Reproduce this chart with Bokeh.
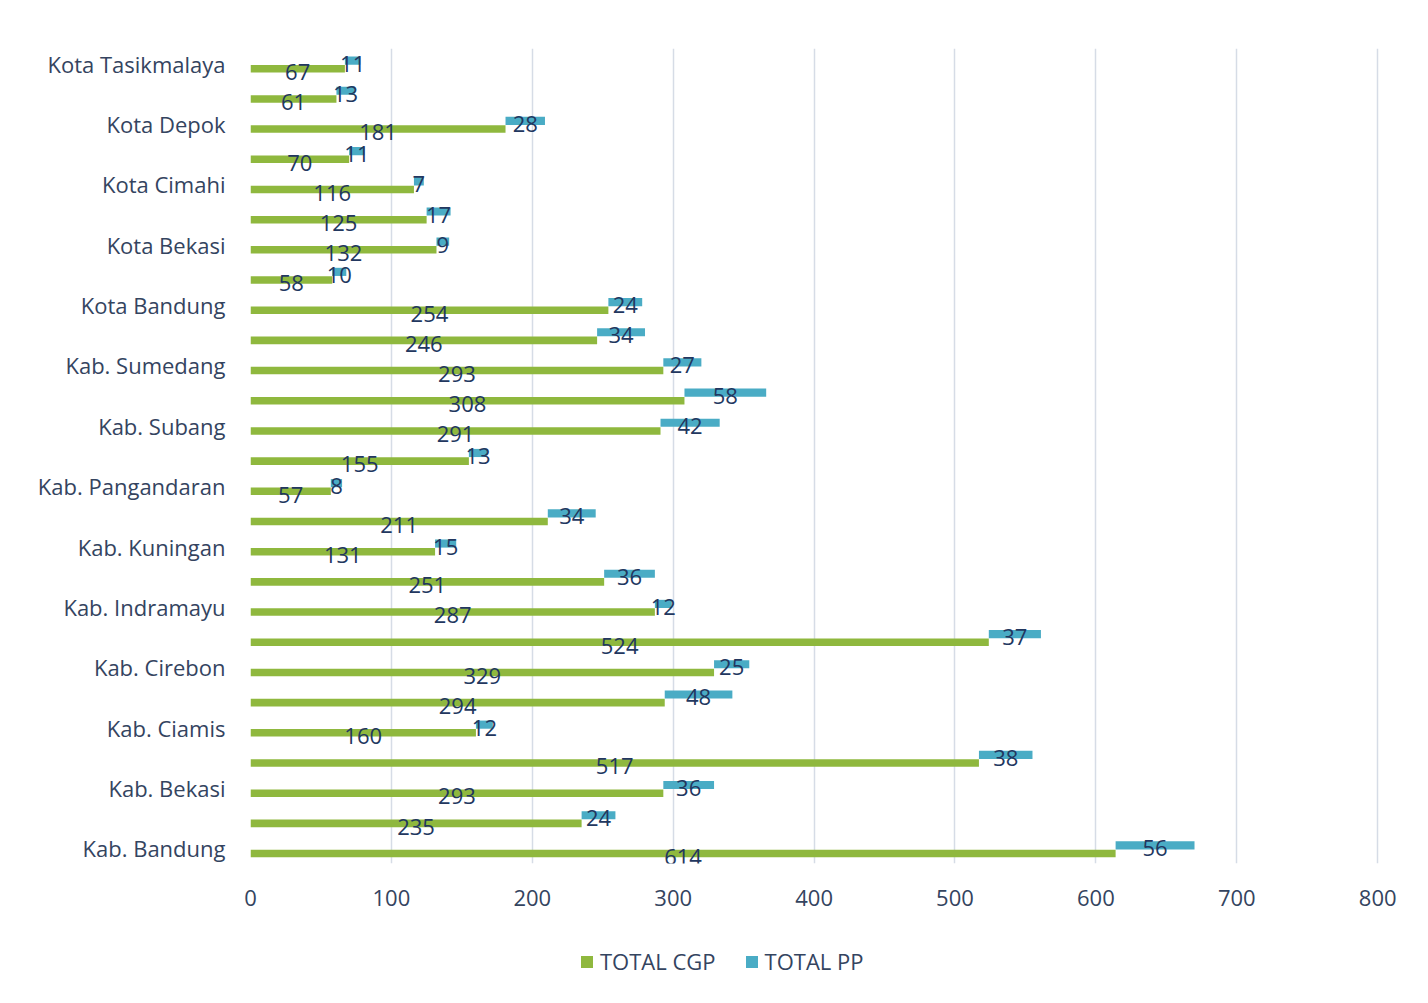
from bokeh.plotting import figure
from bokeh.models import ColumnDataSource, FixedTicker, Legend, LegendItem
from bokeh.layouts import column
from bokeh.core.properties import value
from bokeh.embed import file_html
from bokeh.resources import INLINE

# Categories from bottom to top
regions = [
    "Kab. Bandung", "Kab. Bandung Barat", "Kab. Bekasi", "Kab. Bogor",
    "Kab. Ciamis", "Kab. Cianjur", "Kab. Cirebon", "Kab. Garut",
    "Kab. Indramayu", "Kab. Karawang", "Kab. Kuningan", "Kab. Majalengka",
    "Kab. Pangandaran", "Kab. Purwakarta", "Kab. Subang", "Kab. Sukabumi",
    "Kab. Sumedang", "Kab. Tasikmalaya", "Kota Bandung", "Kota Banjar",
    "Kota Bekasi", "Kota Bogor", "Kota Cimahi", "Kota Cirebon",
    "Kota Depok", "Kota Sukabumi", "Kota Tasikmalaya",
]
total_cgp = [614, 235, 293, 517, 160, 294, 329, 524, 287, 251, 131, 211,
             57, 155, 291, 308, 293, 246, 254, 58, 132, 125, 116, 70,
             181, 61, 67]
total_pp = [56, 24, 36, 38, 12, 48, 25, 37, 12, 36, 15, 34,
            8, 13, 42, 58, 27, 34, 24, 10, 9, 17, 7, 11,
            28, 13, 11]
x_ticks = [0, 100, 200, 300, 400, 500, 600, 700, 800]
series_names = ["TOTAL CGP", "TOTAL PP"]

GREEN = "#8fb83e"
BLUE = "#4aacc5"
TEXT = "#34445f"
LABEL = "#22375f"
FONT = "Open Sans"
FS = "22px"

idx = list(range(len(regions)))
src = ColumnDataSource(dict(
    yg=[i - 0.17 for i in idx],
    yb=[i + 0.10 for i in idx],
    ygl=[i - 0.28 for i in idx],
    ybl=[i + 0.0 for i in idx],
    cgp=total_cgp,
    tot=[c + q for c, q in zip(total_cgp, total_pp)],
    cgp_mid=[c / 2 for c in total_cgp],
    pp_mid=[c + q / 2 for c, q in zip(total_cgp, total_pp)],
    zero=[0] * len(idx),
    cgp_txt=[str(c) for c in total_cgp],
    pp_txt=[str(q) for q in total_pp],
))

p = figure(width=1428, height=920, x_range=(0, 802), y_range=(-0.5, 26.5),
           output_backend="svg", toolbar_location=None,
           min_border_left=250, min_border_right=48,
           min_border_top=48, min_border_bottom=57)

p.outline_line_color = None
p.background_fill_color = "white"
p.border_fill_color = "white"

p.hbar(y="yg", left="zero", right="cgp", height=0.25, source=src,
       fill_color=GREEN, line_color=None)
p.hbar(y="yb", left="cgp", right="tot", height=0.27, source=src,
       fill_color=BLUE, line_color=None)

p.text(x="cgp_mid", y="ygl", text="cgp_txt", source=src,
       text_font=value(FONT), text_font_size=FS, text_color=LABEL,
       text_align="center", text_baseline="middle")
p.text(x="pp_mid", y="ybl", text="pp_txt", source=src,
       text_font=value(FONT), text_font_size=FS, text_color=LABEL,
       text_align="center", text_baseline="middle")

# x axis
p.xaxis.ticker = FixedTicker(ticks=x_ticks)
p.xaxis.axis_line_color = None
p.xaxis.major_tick_line_color = None
p.xaxis.minor_tick_line_color = None
p.xaxis.major_label_text_font = FONT
p.xaxis.major_label_text_font_size = FS
p.xaxis.major_label_text_color = TEXT
p.xaxis.major_label_standoff = 20

# y axis: every other label
p.yaxis.ticker = FixedTicker(ticks=idx[::2])
p.yaxis.major_label_overrides = {i: regions[i] for i in idx[::2]}
p.yaxis.axis_line_color = None
p.yaxis.major_tick_line_color = None
p.yaxis.minor_tick_line_color = None
p.yaxis.major_label_text_font = FONT
p.yaxis.major_label_text_font_size = FS
p.yaxis.major_label_text_color = TEXT
p.yaxis.major_label_standoff = 19

p.xgrid.grid_line_color = "#d6dce6"
p.xgrid.grid_line_width = 1.5
p.ygrid.grid_line_color = None

# legend strip (frame aligned with the main chart by the column layout)
lg = figure(width=1428, height=80, x_range=(0, 1), y_range=(0, 1),
            output_backend="svg", toolbar_location=None,
            min_border=0)
lg.axis.visible = False
lg.grid.visible = False
lg.outline_line_color = None
lg_g = lg.hbar(y=[5], left=[0], right=[0], height=0.1,
               fill_color=GREEN, line_color=None)
lg_b = lg.hbar(y=[5], left=[0], right=[0], height=0.1,
               fill_color=BLUE, line_color=None)
legend = Legend(items=[LegendItem(label=series_names[0], renderers=[lg_g]),
                       LegendItem(label=series_names[1], renderers=[lg_b])],
                location=(329, 24), orientation="horizontal",
                border_line_color=None, background_fill_alpha=0,
                label_text_font=FONT, label_text_font_size=FS,
                label_text_color=TEXT, glyph_width=15, glyph_height=15,
                spacing=28, padding=0, margin=0, label_standoff=6)
lg.add_layout(legend)

layout = column(p, lg, spacing=0)
open("out.html", "w").write(file_html(layout, INLINE))
